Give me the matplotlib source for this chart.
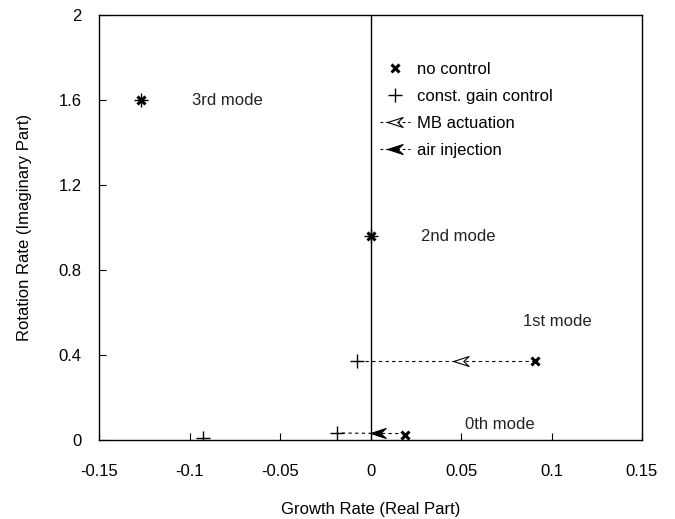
import matplotlib
matplotlib.use("Agg")
import matplotlib.pyplot as plt
import numpy as np
from matplotlib.path import Path
from matplotlib.lines import Line2D

plt.rcParams['font.family'] = ['Liberation Sans', 'DejaVu Sans']

# no control (x markers)
nc_x = [-0.127, 0.0, 0.091, 0.019]
nc_y = [1.60, 0.96, 0.370, 0.025]
# const. gain control (+ markers)
cg_x = [-0.127, 0.0, -0.0075, -0.0185, -0.093]
cg_y = [1.60, 0.96, 0.370, 0.035, 0.008]
# MB actuation path (1st mode): from no-control to controlled
mb_x = [0.091, -0.0075]
mb_y = [0.370, 0.370]
mb_head = (0.050, 0.370)
# air injection path (0th mode)
ai_x = [0.019, -0.0185]
ai_y = [0.030, 0.033]
ai_head = (0.004, 0.031)

mode_labels = ["3rd mode", "2nd mode", "1st mode", "0th mode"]
mode_lx = [-0.099, 0.028, 0.084, 0.052]
mode_ly = [1.60, 0.96, 0.56, 0.075]

xticks = [-0.15, -0.1, -0.05, 0, 0.05, 0.1, 0.15]
xtick_labels = ["-0.15", "-0.1", "-0.05", "0", "0.05", "0.1", "0.15"]
yticks = [0, 0.4, 0.8, 1.2, 1.6, 2]
ytick_labels = ["0", "0.4", "0.8", "1.2", "1.6", "2"]

# arrowhead marker (pointing left)
head_verts = [(-1, 0), (1, 0.65), (0.3, 0), (1, -0.65), (-1, 0)]
head_codes = [Path.MOVETO, Path.LINETO, Path.LINETO, Path.LINETO, Path.CLOSEPOLY]
head = Path(head_verts, head_codes)

HEAD_MS = 11
PLUS_MS = 10
X_MS = 5.5

fig = plt.figure(figsize=(6.75, 5.19), dpi=100)
ax = fig.add_axes([0.1474, 0.1522, 0.9511 - 0.1474, 0.971 - 0.1522])

ax.axvline(0, color='black', lw=1.0)

ax.plot(mb_x, mb_y, linestyle=(0, (3, 3)), color='black', lw=0.8)
ax.plot(ai_x, ai_y, linestyle=(0, (3, 3)), color='black', lw=0.8)
ax.plot([mb_head[0]], [mb_head[1]], marker=head, markersize=HEAD_MS, markerfacecolor='white',
        markeredgecolor='black', markeredgewidth=0.8, linestyle='none')
ax.plot([ai_head[0]], [ai_head[1]], marker=head, markersize=HEAD_MS, markerfacecolor='black',
        markeredgecolor='black', markeredgewidth=0.8, linestyle='none')

ax.plot(nc_x, nc_y, linestyle='none', marker='x', markersize=X_MS, markeredgewidth=2.2, color='black')
ax.plot(cg_x, cg_y, linestyle='none', marker='+', markersize=PLUS_MS, markeredgewidth=1.0, color='black')

for lab, lx, ly in zip(mode_labels, mode_lx, mode_ly):
    ax.text(lx, ly, lab, fontsize=12, ha='left', va='center', color='#222222')

ax.set_xlim(-0.15, 0.15)
ax.set_ylim(0, 2)
ax.set_xticks(xticks)
ax.set_xticklabels(xtick_labels)
ax.set_yticks(yticks)
ax.set_yticklabels(ytick_labels)
ax.tick_params(direction='in', length=5, width=0.8, labelsize=12, top=False, right=False)
ax.tick_params(axis='x', pad=17)
ax.tick_params(axis='y', pad=13)
for s in ax.spines.values():
    s.set_linewidth(1.0)

ax.set_xlabel("Growth Rate (Real Part)", fontsize=12, labelpad=17)
ax.set_ylabel("Rotation Rate (Imaginary Part)", fontsize=12, labelpad=19)

handles = [
    Line2D([], [], linestyle='none', marker='x', markersize=X_MS, markeredgewidth=2.2, color='black'),
    Line2D([], [], linestyle='none', marker='+', markersize=PLUS_MS, markeredgewidth=1.0, color='black'),
    Line2D([], [], linestyle=(0, (2.5, 2.5)), lw=0.8, color='black', marker=head, markersize=HEAD_MS,
           markerfacecolor='white', markeredgecolor='black', markeredgewidth=0.8),
    Line2D([], [], linestyle=(0, (2.5, 2.5)), lw=0.8, color='black', marker=head, markersize=HEAD_MS,
           markerfacecolor='black', markeredgecolor='black', markeredgewidth=0.8),
]
labels = ["no control", "const. gain control", "MB actuation", "air injection"]
leg = ax.legend(handles, labels, loc='upper left', bbox_to_anchor=(0.49, 0.925), frameon=False,
                fontsize=12, handlelength=1.8, handletextpad=0.4, labelspacing=0.72, markerscale=1.0)

fig.savefig("out.png", dpi=100)
